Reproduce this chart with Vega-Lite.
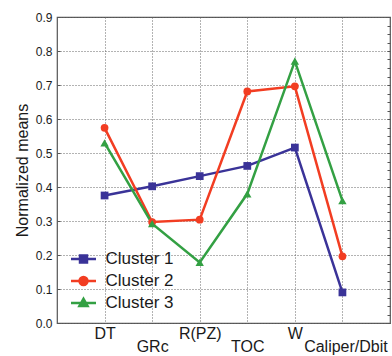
{
  "$schema": "https://vega.github.io/schema/vega-lite/v6.json",
  "width": 333,
  "height": 306,
  "autosize": "none",
  "padding": {"left": 57, "top": 17, "right": 2, "bottom": 33},
  "config": {
    "font": "Liberation Sans",
    "view": {"stroke": "#555555", "strokeWidth": 1.2},
    "axis": {"domain": false, "labelColor": "#1a1a1a", "titleColor": "#1a1a1a", "gridColor": "#666666", "gridDash": [1, 2], "gridWidth": 1, "gridOpacity": 1},
    "legend": {"title": null, "orient": "none", "legendX": 16.5, "legendY": 232, "padding": 0, "symbolSize": 289, "symbolOpacity": 1, "symbolStrokeWidth": 2.5, "labelOffset": 12, "labelFontSize": 17, "labelColor": "#1a1a1a", "rowPadding": 3}
  },
  "data": {
    "values": [
      {"cluster": "Cluster 1", "variable": "DT", "value": 0.375},
      {"cluster": "Cluster 1", "variable": "GRc", "value": 0.402},
      {"cluster": "Cluster 1", "variable": "R(PZ)", "value": 0.432},
      {"cluster": "Cluster 1", "variable": "TOC", "value": 0.462},
      {"cluster": "Cluster 1", "variable": "W", "value": 0.516},
      {"cluster": "Cluster 1", "variable": "Caliper/Dbit", "value": 0.090},
      {"cluster": "Cluster 2", "variable": "DT", "value": 0.574},
      {"cluster": "Cluster 2", "variable": "GRc", "value": 0.297},
      {"cluster": "Cluster 2", "variable": "R(PZ)", "value": 0.304},
      {"cluster": "Cluster 2", "variable": "TOC", "value": 0.681},
      {"cluster": "Cluster 2", "variable": "W", "value": 0.696},
      {"cluster": "Cluster 2", "variable": "Caliper/Dbit", "value": 0.196},
      {"cluster": "Cluster 3", "variable": "DT", "value": 0.530},
      {"cluster": "Cluster 3", "variable": "GRc", "value": 0.292},
      {"cluster": "Cluster 3", "variable": "R(PZ)", "value": 0.178},
      {"cluster": "Cluster 3", "variable": "TOC", "value": 0.380},
      {"cluster": "Cluster 3", "variable": "W", "value": 0.770},
      {"cluster": "Cluster 3", "variable": "Caliper/Dbit", "value": 0.360}
    ]
  },
  "encoding": {
    "x": {
      "field": "variable",
      "type": "ordinal",
      "sort": ["DT", "GRc", "R(PZ)", "TOC", "W", "Caliper/Dbit"],
      "scale": {"type": "point", "padding": 1},
      "axis": {
        "title": null,
        "labelAngle": 0,
        "ticks": false,
        "grid": true,
        "labelFontSize": 16,
        "labelBaseline": "top",
        "labelOffset": {"condition": {"test": "datum.value === 'Caliper/Dbit'", "value": 3}, "value": 0},
        "labelPadding": {"condition": {"test": "indexof(['GRc','TOC','Caliper/Dbit'], datum.value) >= 0", "value": 15}, "value": 2}
      }
    },
    "color": {"field": "cluster", "type": "nominal", "scale": {"domain": ["Cluster 1", "Cluster 2", "Cluster 3"], "range": ["#3a3398", "#f23d22", "#33a043"]}}
  },
  "layer": [
    {
      "mark": {"type": "point", "filled": true, "opacity": 0, "size": 289, "strokeWidth": 2.5},
      "encoding": {
        "y": {
          "field": "value",
          "type": "quantitative",
          "scale": {"domain": [0, 0.9], "nice": false},
          "axis": {
            "title": "Normalized means",
            "titleFontSize": 16,
            "titleFontWeight": "normal",
            "titlePadding": 5,
            "labelFontSize": 12,
            "format": ".1f",
            "grid": true,
            "values": [0, 0.1, 0.2, 0.3, 0.4, 0.5, 0.6, 0.7, 0.8, 0.9],
            "tickSize": -3,
            "tickColor": "#555555",
            "labelPadding": 8
          }
        },
        "stroke": {
          "field": "cluster", "type": "nominal",
          "scale": {"domain": ["Cluster 1", "Cluster 2", "Cluster 3"], "range": ["#3a3398", "#f23d22", "#33a043"]}
        },
        "shape": {
          "field": "cluster", "type": "nominal",
          "scale": {"domain": ["Cluster 1", "Cluster 2", "Cluster 3"], "range": ["M-1.47,0H1.47M-0.41,-0.41H0.41V0.41H-0.41Z", "M-1.47,0H1.47M0.47,0A0.47,0.47 0 1,1 -0.47,0A0.47,0.47 0 1,1 0.47,0Z", "M-1.47,0H1.47M0,-0.5L0.48,0.36L-0.48,0.36Z"]}
        }
      }
    },
    {
      "mark": {"type": "line", "strokeWidth": 2.5},
      "encoding": {
        "y": {"field": "value", "type": "quantitative", "scale": {"domain": [0, 0.9], "nice": false}, "axis": null}
      }
    },
    {
      "transform": [{"filter": "datum.cluster === 'Cluster 1'"}],
      "mark": {"type": "point", "shape": "square", "filled": true, "opacity": 1, "size": 60},
      "encoding": {
        "y": {
          "field": "value",
          "type": "quantitative",
          "scale": {"domain": [0, 0.9], "nice": false},
          "axis": {
            "orient": "right",
            "title": null,
            "labels": false,
            "grid": false,
            "values": [0, 0.025, 0.05, 0.075, 0.1, 0.125, 0.15, 0.175, 0.2, 0.225, 0.25, 0.275, 0.3, 0.325, 0.35, 0.375, 0.4, 0.425, 0.45, 0.475, 0.5, 0.525, 0.55, 0.575, 0.6, 0.625, 0.65, 0.675, 0.7, 0.725, 0.75, 0.775, 0.8, 0.825, 0.85, 0.875, 0.9],
            "tickSize": -3,
            "tickColor": "#555555"
          }
        }
      }
    },
    {
      "transform": [{"filter": "datum.cluster === 'Cluster 2'"}],
      "mark": {"type": "point", "shape": "circle", "filled": true, "opacity": 1, "size": 60},
      "encoding": {
        "y": {"field": "value", "type": "quantitative", "scale": {"domain": [0, 0.9], "nice": false}, "axis": null}
      }
    },
    {
      "transform": [{"filter": "datum.cluster === 'Cluster 3'"}],
      "mark": {"type": "point", "shape": "triangle-up", "filled": true, "opacity": 1, "size": 70},
      "encoding": {
        "y": {"field": "value", "type": "quantitative", "scale": {"domain": [0, 0.9], "nice": false}, "axis": null}
      }
    }
  ],
  "resolve": {"scale": {"y": "independent"}, "axis": {"y": "independent"}}
}
